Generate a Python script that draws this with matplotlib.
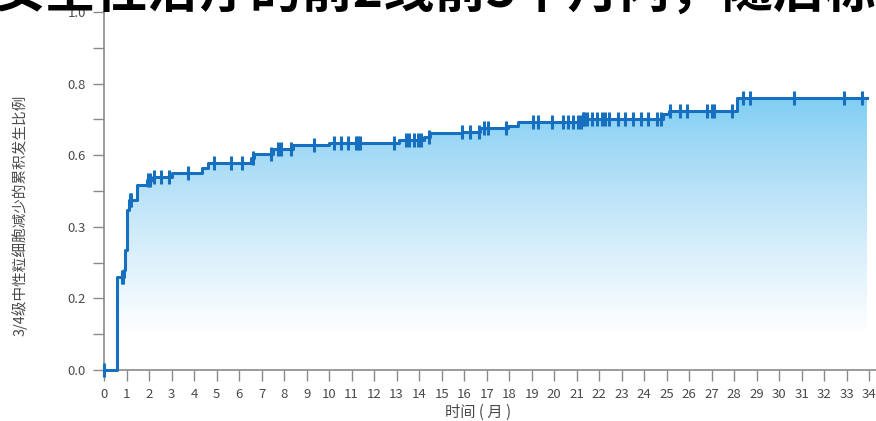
import numpy as np
import matplotlib.pyplot as plt
from matplotlib.colors import LinearSegmentedColormap
from matplotlib.path import Path

plt.rcParams['font.family'] = ['Noto Sans CJK SC', 'DejaVu Sans']

# step times (months) and cumulative incidence reached at each step
event_months = [0.58, 0.87, 0.94, 1.02, 1.12, 1.46, 1.90, 2.17, 3.01, 4.34, 4.63,
                6.55, 6.68, 7.51, 8.39, 10.0, 13.1, 14.2, 14.5, 15.9, 16.7,
                17.96, 18.4, 21.2, 24.85, 25.1, 28.1]
cum_incidence = [0.260, 0.279, 0.335, 0.447, 0.475, 0.517, 0.531, 0.539, 0.551,
                 0.564, 0.577, 0.591, 0.603, 0.616, 0.628, 0.635, 0.642, 0.650,
                 0.661, 0.666, 0.677, 0.682, 0.693, 0.700, 0.715, 0.724, 0.761]
last_month = 33.9

# censored observations
censor_months = [0.0, 0.80, 0.84, 1.15, 1.22, 1.95, 2.05, 2.2, 2.55, 2.88, 3.74,
                 4.9, 5.66, 6.13, 6.62, 7.43, 7.74, 7.88, 8.32, 9.35, 10.22,
                 10.53, 10.84, 11.19, 11.28, 11.37, 12.87, 13.4, 13.54, 13.76,
                 13.94, 14.07, 14.42, 15.9, 16.28, 16.68, 16.86, 17.04, 17.88,
                 19.06, 19.27, 19.9, 20.4, 20.6, 20.84, 21.06, 21.19, 21.28,
                 21.33, 21.46, 21.68, 21.9, 22.12, 22.26, 22.43, 22.83, 23.14,
                 23.5, 23.85, 24.16, 24.56, 24.75, 25.13, 25.58, 25.88, 26.81,
                 26.99, 27.12, 27.92, 28.4, 28.72, 30.66, 32.88, 33.66]

y_ticks = np.arange(0, 1.01, 0.1)
y_labels = ['0.0', '', '0.2', '', '0.3', '', '0.6', '', '0.8', '', '1.0']
x_ticks = list(range(0, 35))

title = '安全性治疗的前2线前3个月内，随后标'
ylabel = '3/4级中性粒细胞减少的累积发生比例'
xlabel = '时间 ( 月 )'

line_col = '#1670bf'
axis_col = '#8a8a8a'
text_col = '#4a4a4a'

t = np.array([0.0] + event_months + [last_month])
y = np.array([0.0] + cum_incidence + [cum_incidence[-1]])

fig = plt.figure(figsize=(8.76, 4.21), dpi=100)
ax = fig.add_axes([104 / 876, 51 / 421, 772 / 876, 358 / 421])
ax.set_xlim(0, 772 / 22.51)
ax.set_ylim(0, 1.0)

# polygon under the step curve, used to clip the gradient
verts = [(t[0], 0.0)]
for i in range(len(t) - 1):
    verts.append((t[i], y[i]))
    verts.append((t[i + 1], y[i]))
verts.append((t[-1], y[-1]))
verts.append((t[-1], 0.0))
verts.append((t[0], 0.0))
clip = Path(verts, closed=True)

top = 0.78
cmap = LinearSegmentedColormap.from_list(
    'fade', [(0.0, '#ffffff'), (0.13, '#ffffff'), (0.45, '#d6eefb'),
             (0.75, '#a9dcf6'), (1.0, '#7ccdf4')])
grad = np.linspace(0, 1, 256).reshape(-1, 1)
im = ax.imshow(grad, cmap=cmap, origin='lower', aspect='auto',
               extent=[0, last_month, 0.0, top], zorder=1, interpolation='bilinear')
im.set_clip_path(clip, transform=ax.transData)

ax.step(t, y, where='post', color=line_col, lw=2.2, zorder=3, clip_on=False)

# censor marks sit on the curve
idx = np.searchsorted(t, censor_months, side='right') - 1
ax.plot(censor_months, y[idx], ls='none', marker='|', ms=10, mew=2.2,
        color=line_col, zorder=4, clip_on=False)

for side in ['top', 'right']:
    ax.spines[side].set_visible(False)
for side in ['left', 'bottom']:
    ax.spines[side].set_color(axis_col)
    ax.spines[side].set_linewidth(1.2)

ax.set_yticks(y_ticks)
ax.set_yticklabels(y_labels)
ax.set_xticks(x_ticks)
ax.tick_params(axis='both', direction='out', length=8, width=1, color=axis_col,
               labelcolor=text_col, labelsize=9.5)
ax.tick_params(axis='x', pad=5)
ax.tick_params(axis='y', pad=5)

fig.text(20 / 876, 1 - 215 / 421, ylabel, rotation=90, ha='center', va='center',
         fontsize=10.5, color=text_col)
fig.text(478 / 876, 1 - 412 / 421, xlabel, ha='center', va='center',
         fontsize=11, color=text_col)
fig.text(-6 / 876, 1 - 7 / 421, title, ha='left', va='baseline',
         fontsize=37, fontweight='heavy', color='black')

fig.savefig('out.png', dpi=100)
